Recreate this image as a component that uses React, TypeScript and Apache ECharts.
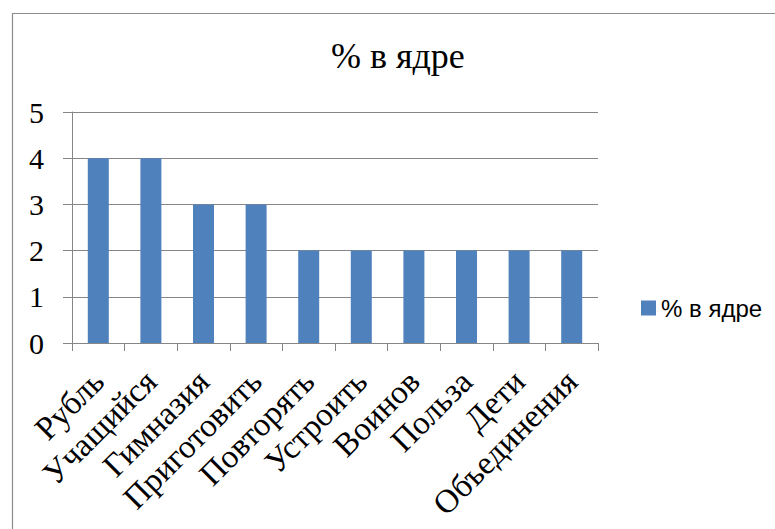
import React, { useEffect, useRef } from "react";
import * as echarts from "echarts";

const titleText = "% в ядре";
const seriesName = "% в ядре";
const categories = [
  "Рубль",
  "Учащийся",
  "Гимназия",
  "Приготовить",
  "Повторять",
  "Устроить",
  "Воинов",
  "Польза",
  "Дети",
  "Объединения",
];
const values = [4, 4, 3, 3, 2, 2, 2, 2, 2, 2];
const yMin = 0;
const yMax = 5;
const yInterval = 1;

export default function App() {
  const ref = useRef<HTMLDivElement>(null);
  useEffect(() => {
    if (!ref.current) return;
    const chart = echarts.init(ref.current, undefined, { renderer: "svg" });
    const gray = "#868686";
    chart.setOption({
      animation: false,
      backgroundColor: "#ffffff",
      title: {
        text: titleText,
        left: 331,
        top: 38,
        padding: 0,
        textStyle: {
          fontFamily: "Liberation Serif",
          fontSize: 36,
          fontWeight: "normal",
          color: "#000",
        },
      },
      legend: {
        data: [seriesName],
        left: 641,
        top: 296,
        padding: 0,
        icon: "rect",
        itemWidth: 15,
        itemHeight: 15,
        textStyle: {
          fontFamily: "Liberation Sans",
          fontSize: 24,
          color: "#000",
        },
      },
      graphic: [
        {
          type: "rect",
          shape: { x: 12.5, y: 13.5, width: 800, height: 600 },
          style: { fill: "none", stroke: "#8c8c8c", lineWidth: 1.2 },
          silent: true,
        },
      ],
      grid: {
        left: 72,
        top: 112,
        width: 526,
        height: 231,
        containLabel: false,
        outerBoundsMode: "none",
      },
      xAxis: {
        type: "category",
        data: categories,
        boundaryGap: true,
        axisLine: { show: true, lineStyle: { color: gray, width: 1 } },
        axisTick: {
          show: true,
          length: 8,
          alignWithLabel: false,
          interval: 0,
          lineStyle: { color: gray },
        },
        axisLabel: {
          interval: 0,
          rotate: 45,
          align: "right",
          verticalAlign: "middle",
          margin: 33,
          fontFamily: "Liberation Serif",
          fontSize: 33,
          color: "#000",
        },
        splitLine: { show: false },
      },
      yAxis: {
        type: "value",
        min: yMin,
        max: yMax,
        interval: yInterval,
        axisLine: { show: true, lineStyle: { color: gray, width: 1 } },
        axisTick: { show: true, length: 9, lineStyle: { color: gray } },
        axisLabel: {
          margin: 28,
          fontFamily: "Liberation Serif",
          fontSize: 30,
          color: "#000",
        },
        splitLine: { show: true, lineStyle: { color: gray, width: 1 } },
      },
      series: [
        {
          name: seriesName,
          type: "bar",
          data: values,
          barWidth: 21,
          itemStyle: { color: "#4F81BD" },
        },
      ],
    });
    return () => chart.dispose();
  }, []);
  return (
    <div
      ref={ref}
      style={{
        position: "absolute",
        left: 0,
        top: 0,
        width: 775,
        height: 529,
        background: "#fff",
      }}
    />
  );
}
